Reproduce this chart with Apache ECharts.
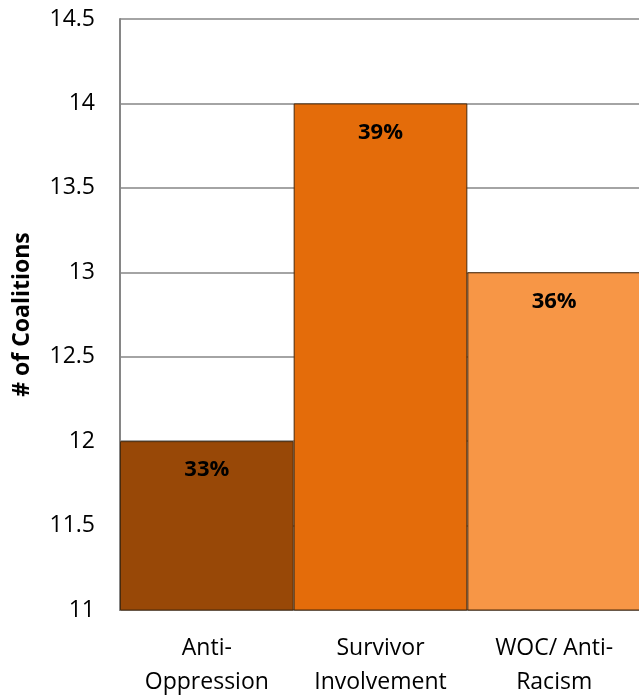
<!DOCTYPE html>
<html>
<head>
<meta charset="utf-8">
<script src="https://cdn.jsdelivr.net/npm/echarts@6/dist/echarts.min.js"></script>
<style>html,body{margin:0;padding:0;background:#fff}#c{width:639px;height:698px}</style>
</head>
<body>
<div id="c"></div>
<script>
var categories = ['Anti-\nOppression', 'Survivor\nInvolvement', 'WOC/ Anti-\nRacism'];
var values = [12, 14, 13];
var percentLabels = ['33%', '39%', '36%'];
var barColors = ['#984807', '#E46C0A', '#F79646'];
var yMin = 11, yMax = 14.5, yInterval = 0.5;

var font = '"Open Sans", "Liberation Sans", sans-serif';
var chart = echarts.init(document.getElementById('c'));
chart.setOption({
  animation: false,
  grid: { left: 120, top: 19, width: 521, height: 591, containLabel: false, outerBoundsMode: 'none' },
  xAxis: {
    type: 'category',
    data: categories,
    axisLine: { lineStyle: { color: '#868686', width: 2 } },
    axisTick: { show: false },
    axisLabel: { color: '#000', fontSize: 23, fontFamily: font, lineHeight: 34, margin: 21 }
  },
  yAxis: {
    type: 'value',
    min: yMin, max: yMax, interval: yInterval,
    name: '# of Coalitions',
    nameLocation: 'middle',
    nameRotate: 90,
    nameGap: 86,
    nameTextStyle: { color: '#000', fontSize: 23, fontWeight: 'bold', fontFamily: font },
    axisLine: { show: true, lineStyle: { color: '#868686', width: 2 } },
    axisTick: { show: false },
    splitLine: { lineStyle: { color: '#868686', width: 1.5 } },
    axisLabel: { color: '#000', fontSize: 23, fontFamily: font, margin: 25 }
  },
  series: [{
    type: 'bar',
    barCategoryGap: '0%',
    data: values.map(function (v, i) {
      return { value: v, itemStyle: { color: barColors[i] } };
    }),
    itemStyle: { borderColor: '#4a2a0c', borderWidth: 1 },
    label: {
      show: true,
      position: 'insideTop',
      distance: 18,
      color: '#000',
      fontSize: 22,
      fontWeight: 'bold',
      fontFamily: font,
      formatter: function (p) { return percentLabels[p.dataIndex]; }
    }
  }]
});
</script>
</body>
</html>
